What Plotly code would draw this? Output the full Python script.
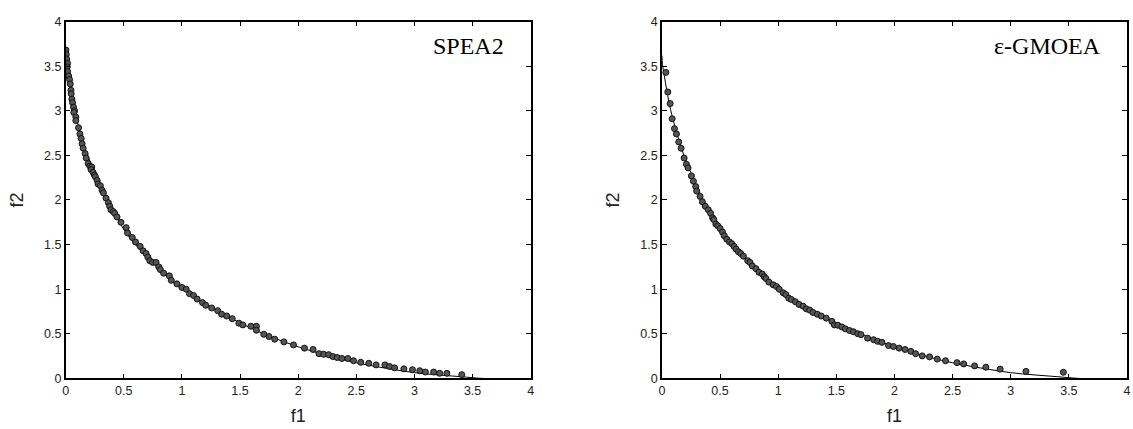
import plotly.graph_objects as go
from plotly.subplots import make_subplots

# Reference Pareto front
front_f1 = [0.0, 0.005, 0.02, 0.04, 0.06, 0.09, 0.13, 0.17, 0.22, 0.28, 0.35, 0.42, 0.5, 0.6, 0.7,
            0.8, 0.9, 1.0, 1.2, 1.4, 1.6, 1.8, 2.0, 2.2, 2.4, 2.6, 2.8, 3.0, 3.2, 3.4, 3.6, 4.0]
front_f2 = [3.62, 3.52, 3.40, 3.24, 3.10, 2.93, 2.74, 2.57, 2.40, 2.21, 2.02, 1.85, 1.67, 1.50, 1.36,
            1.23, 1.11, 1.01, 0.84, 0.69, 0.56, 0.45, 0.355, 0.275, 0.205, 0.15, 0.105, 0.065, 0.04, 0.02, 0.0, 0.0]

# SPEA2 solutions
spea2_f1 = [0.003, 0.006, 0.009, 0.017, 0.014, 0.017, 0.026, 0.034, 0.040, 0.046, 0.048, 0.054, 0.060, 0.068,
            0.077, 0.071, 0.088, 0.088, 0.111, 0.123, 0.134, 0.142, 0.151, 0.168, 0.177, 0.194, 0.208, 0.225,
            0.219, 0.236, 0.248, 0.256, 0.271, 0.279, 0.299, 0.313, 0.325, 0.348, 0.368, 0.379, 0.390, 0.410,
            0.422, 0.442, 0.476, 0.521, 0.533, 0.573, 0.601, 0.641, 0.667, 0.692, 0.707, 0.724, 0.749, 0.778,
            0.801, 0.815, 0.843, 0.892, 0.909, 0.957, 1.000, 1.037, 1.066, 1.100, 1.131, 1.177, 1.205, 1.256,
            1.308, 1.342, 1.385, 1.433, 1.490, 1.524, 1.593, 1.641, 1.641, 1.704, 1.749, 1.798, 1.877, 1.960,
            2.054, 2.128, 2.179, 2.219, 2.262, 2.299, 2.336, 2.376, 2.427, 2.476, 2.538, 2.607, 2.670, 2.746,
            2.786, 2.829, 2.909, 2.983, 3.046, 3.094, 3.165, 3.217, 3.279, 3.407]
spea2_f2 = [3.68, 3.63, 3.58, 3.53, 3.49, 3.44, 3.39, 3.35, 3.30, 3.23, 3.19, 3.13, 3.09, 3.04,
            3.00, 2.98, 2.93, 2.89, 2.81, 2.74, 2.69, 2.63, 2.58, 2.52, 2.47, 2.41, 2.38, 2.37,
            2.34, 2.31, 2.28, 2.26, 2.22, 2.18, 2.16, 2.11, 2.08, 2.02, 1.97, 1.93, 1.89, 1.87,
            1.85, 1.81, 1.75, 1.69, 1.63, 1.58, 1.53, 1.48, 1.43, 1.40, 1.36, 1.32, 1.30, 1.30,
            1.25, 1.22, 1.18, 1.15, 1.10, 1.06, 1.02, 1.00, 0.95, 0.93, 0.89, 0.85, 0.82, 0.79,
            0.76, 0.72, 0.70, 0.67, 0.62, 0.60, 0.585, 0.585, 0.54, 0.495, 0.47, 0.44, 0.41, 0.376,
            0.34, 0.325, 0.278, 0.271, 0.267, 0.246, 0.235, 0.224, 0.224, 0.199, 0.181, 0.17, 0.152, 0.152,
            0.134, 0.119, 0.108, 0.098, 0.087, 0.072, 0.072, 0.058, 0.058, 0.043]

# e-GMOEA solutions
gmoea_f1 = [0.034, 0.051, 0.071, 0.088, 0.108, 0.125, 0.145, 0.165, 0.191, 0.211, 0.225, 0.254, 0.271,
            0.291, 0.299, 0.328, 0.348, 0.373, 0.399, 0.419, 0.436, 0.447, 0.464, 0.481, 0.501, 0.521,
            0.536, 0.558, 0.581, 0.601, 0.621, 0.638, 0.658, 0.678, 0.701, 0.738, 0.758, 0.778, 0.809,
            0.835, 0.863, 0.880, 0.895, 0.920, 0.957, 0.986, 1.009, 1.043, 1.066, 1.091, 1.114, 1.148,
            1.179, 1.214, 1.242, 1.271, 1.299, 1.336, 1.370, 1.413, 1.462, 1.484, 1.513, 1.547, 1.578,
            1.613, 1.647, 1.684, 1.712, 1.769, 1.821, 1.855, 1.892, 1.949, 1.991, 2.040, 2.091, 2.140,
            2.182, 2.239, 2.302, 2.368, 2.439, 2.538, 2.595, 2.689, 2.786, 2.909, 3.131, 3.453]
gmoea_f2 = [3.43, 3.21, 3.08, 2.91, 2.80, 2.74, 2.65, 2.58, 2.47, 2.40, 2.36, 2.27, 2.21,
            2.15, 2.10, 2.04, 1.98, 1.93, 1.89, 1.85, 1.80, 1.78, 1.73, 1.71, 1.68, 1.64,
            1.60, 1.56, 1.53, 1.51, 1.48, 1.45, 1.42, 1.40, 1.37, 1.32, 1.30, 1.26, 1.23,
            1.19, 1.17, 1.14, 1.12, 1.08, 1.05, 1.03, 1.00, 0.96, 0.94, 0.90, 0.885, 0.86,
            0.83, 0.81, 0.78, 0.766, 0.74, 0.72, 0.70, 0.676, 0.64, 0.60, 0.596, 0.578, 0.556,
            0.538, 0.524, 0.502, 0.491, 0.452, 0.434, 0.416, 0.405, 0.369, 0.358, 0.340, 0.325, 0.304,
            0.278, 0.253, 0.242, 0.217, 0.199, 0.177, 0.163, 0.141, 0.126, 0.105, 0.079, 0.069]

tick_vals = [0, 0.5, 1, 1.5, 2, 2.5, 3, 3.5, 4]
tick_text = ["0", "0.5", "1", "1.5", "2", "2.5", "3", "3.5", "4"]
panel_titles = ["SPEA2", "\u03b5-GMOEA"]

fig = make_subplots(rows=1, cols=2)

marker = dict(size=6, color="#555555", line=dict(color="#111111", width=1))
for col, (xs, ys) in enumerate([(spea2_f1, spea2_f2), (gmoea_f1, gmoea_f2)], start=1):
    fig.add_trace(go.Scatter(x=front_f1, y=front_f2, mode="lines",
                             line=dict(color="black", width=1), showlegend=False,
                             line_shape="spline", cliponaxis=False), row=1, col=col)
    fig.add_trace(go.Scatter(x=xs, y=ys, mode="markers", marker=marker, showlegend=False),
                  row=1, col=col)

sans = "Liberation Sans, Arial"
axis_common = dict(range=[0, 4], tickvals=tick_vals, ticktext=tick_text, ticks="inside",
                   ticklen=5, tickcolor="black", showline=True, linecolor="black", linewidth=1.5,
                   mirror="ticks", showgrid=False, zeroline=False,
                   tickfont=dict(family=sans, size=12.5, color="#222222"))
title_font = dict(family=sans, size=18, color="#222222")

y_dom = [(429 - 384) / 429, (429 - 15) / 429]
fig.update_layout(
    width=1133, height=429, margin=dict(l=0, r=0, t=0, b=0),
    paper_bgcolor="white", plot_bgcolor="white",
    xaxis=dict(domain=[63 / 1133, 531 / 1133], **axis_common,
               title=dict(text="f1", font=title_font, standoff=12)),
    xaxis2=dict(domain=[663 / 1133, 1131 / 1133], **axis_common,
                title=dict(text="f1", font=title_font, standoff=12)),
    yaxis=dict(domain=y_dom, **axis_common,
               title=dict(text="f2", font=title_font, standoff=16)),
    yaxis2=dict(domain=y_dom, **axis_common,
                title=dict(text="f2", font=title_font, standoff=16)),
)

for i, t in enumerate(panel_titles):
    xref = "x" if i == 0 else "x2"
    yref = "y" if i == 0 else "y2"
    fig.add_annotation(x=3.79, y=3.73, xref=xref, yref=yref, text=t, showarrow=False,
                       xanchor="right", yanchor="middle",
                       font=dict(family="Liberation Serif, Times New Roman", size=24, color="black"))

fig.write_html("out.html")
